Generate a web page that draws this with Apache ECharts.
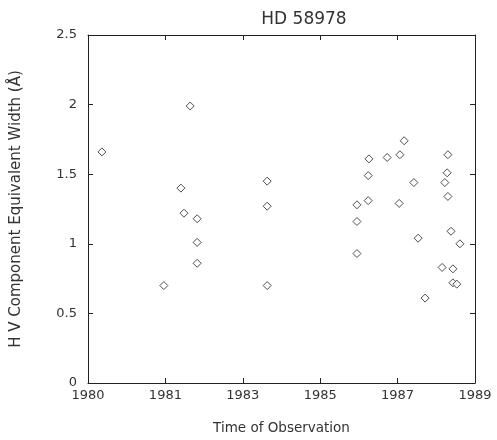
<!DOCTYPE html>
<html>
<head>
<meta charset="utf-8">
<script src="https://cdn.jsdelivr.net/npm/echarts@6/dist/echarts.min.js"></script>
<style>
  html, body { margin: 0; padding: 0; background: #fff; }
  #chart { width: 497px; height: 440px; }
</style>
</head>
<body>
<div id="chart"></div>
<script>
// observation epochs (decimal year) and equivalent widths (A)
const years = [
  1980.36, 1981.96, 1982.40, 1982.48, 1982.64, 1982.82, 1982.82, 1982.82,
  1984.63, 1984.63, 1984.63,
  1986.95, 1986.95, 1986.95, 1987.24, 1987.24, 1987.26, 1987.73,
  1988.04, 1988.06, 1988.17, 1988.42, 1988.53, 1988.71,
  1989.15, 1989.22, 1989.28, 1989.30, 1989.30, 1989.38, 1989.43, 1989.43, 1989.53, 1989.61
]
const widths = [
  1.66, 0.70, 1.40, 1.22, 1.99, 1.18, 1.01, 0.86,
  1.45, 1.27, 0.70,
  1.28, 1.16, 0.93, 1.49, 1.31, 1.61, 1.62,
  1.29, 1.64, 1.74, 1.44, 1.04, 0.61,
  0.83, 1.44, 1.51, 1.64, 1.34, 1.09, 0.82, 0.72, 0.71, 1.00
]
const xTickLabels = ['1980', '1981', '1983', '1985', '1987', '1989']
const yTickLabels = ['0', '0.5', '1', '1.5', '2', '2.5']

const font = 'DejaVu Sans'
const ink = '#222'

const points = years.map((x, i) => [x, widths[i]])

const chart = echarts.init(document.getElementById('chart'))

const boxAxis = {
  axisLine: { show: true, onZero: false, lineStyle: { color: ink, width: 1 } },
  axisTick: { show: true, inside: true, length: 5, lineStyle: { color: ink } },
  splitLine: { show: false },
}

chart.setOption({
  animation: false,
  title: {
    text: 'HD 58978',
    left: 299,
    top: 6,
    textAlign: 'center',
    textStyle: { fontFamily: font, fontSize: 17, fontWeight: 'normal', color: '#333' },
  },
  grid: { left: 88, right: 22, top: 35, bottom: 57 },
  xAxis: [
    {
      ...boxAxis,
      type: 'value',
      min: 1980,
      max: 1990,
      interval: 2,
      name: 'Time of Observation',
      nameLocation: 'middle',
      nameGap: 38,
      nameTextStyle: { fontFamily: font, fontSize: 13.5, color: '#333' },
      axisLabel: {
        fontFamily: font,
        fontSize: 13,
        color: '#333',
        margin: 6,
        formatter: (v) => xTickLabels[Math.round((v - 1980) / 2)],
      },
    },
    {
      ...boxAxis,
      type: 'value',
      position: 'top',
      min: 1980,
      max: 1990,
      interval: 2,
      axisLabel: { show: false },
    },
  ],
  yAxis: [
    {
      ...boxAxis,
      type: 'value',
      min: 0,
      max: 2.5,
      interval: 0.5,
      name: 'H V Component Equivalent Width (Å)',
      nameLocation: 'middle',
      nameGap: 64,
      nameTextStyle: { fontFamily: font, fontSize: 15, color: '#333' },
      axisLabel: {
        fontFamily: font,
        fontSize: 13,
        color: '#333',
        margin: 11,
        formatter: (v) => yTickLabels[Math.round(v / 0.5)],
      },
    },
    {
      ...boxAxis,
      type: 'value',
      position: 'right',
      min: 0,
      max: 2.5,
      interval: 0.5,
      axisLabel: { show: false },
    },
  ],
  series: [
    {
      type: 'scatter',
      data: points,
      symbol: 'diamond',
      symbolSize: 8,
      itemStyle: { color: '#fff', borderColor: ink, borderWidth: 1 },
      emphasis: { disabled: true },
    },
  ],
})
</script>
</body>
</html>
